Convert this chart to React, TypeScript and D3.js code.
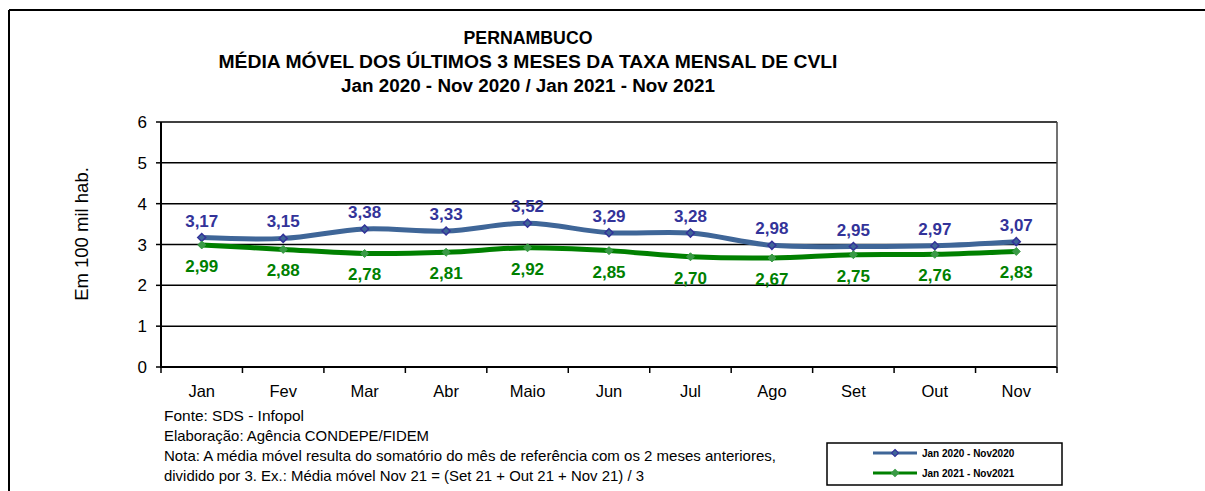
import React from "react";
import * as d3 from "d3";

const months = ["Jan", "Fev", "Mar", "Abr", "Maio", "Jun", "Jul", "Ago", "Set", "Out", "Nov"];
const series2020 = [3.17, 3.15, 3.38, 3.33, 3.52, 3.29, 3.28, 2.98, 2.95, 2.97, 3.07];
const series2021 = [2.99, 2.88, 2.78, 2.81, 2.92, 2.85, 2.70, 2.67, 2.75, 2.76, 2.83];
const yTicks = [0, 1, 2, 3, 4, 5, 6];
const legendLabels = ["Jan 2020 - Nov2020", "Jan 2021 - Nov2021"];
const titleLines = [
  "PERNAMBUCO",
  "MÉDIA MÓVEL DOS ÚLTIMOS 3 MESES DA TAXA MENSAL DE CVLI",
  "Jan 2020 - Nov 2020 / Jan 2021 - Nov 2021",
];
const footerLines = [
  "Fonte: SDS - Infopol",
  "Elaboração: Agência CONDEPE/FIDEM",
  "Nota: A média móvel resulta do somatório do mês de referência com os 2 meses anteriores,",
  "dividido por 3. Ex.: Média móvel Nov 21 = (Set 21 + Out 21 + Nov 21) / 3",
];

const W = 1205;
const H = 491;
const FONT = "'Liberation Sans', Arial, sans-serif";
const BLUE_LINE = "#3F6698";
const BLUE_MARK = "#333399";
const GREEN_LINE = "#008000";
const GREEN_MARK = "#3A9A46";
const titleWidths = [129, 619, 374];
const footerWidths = [140, 265, 612, 480];

export default function App() {
  const left = 161, right = 1057, top = 122, bottom = 367;
  const x = d3.scaleBand<string>().domain(months).range([left, right]);
  const y = d3.scaleLinear().domain([0, 6]).range([bottom, top]);
  const cx = (m: string) => (x(m) as number) + x.bandwidth() / 2;
  const line = d3
    .line<number>()
    .x((_, i) => cx(months[i]))
    .y((d) => y(d))
    .curve(d3.curveCatmullRom.alpha(0.5));
  const diamond = (px: number, py: number, r: number) =>
    `M${px},${py - r}L${px + r},${py}L${px},${py + r}L${px - r},${py}Z`;

  return (
    <svg width={W} height={H} style={{ position: "absolute", left: 0, top: 0, background: "#fff" }}>
      <rect x={0} y={0} width={W} height={H} fill="#fff" />
      {/* outer frame */}
      <line x1={9} y1={10} x2={W} y2={10} stroke="#000" strokeWidth={2} />
      <line x1={9} y1={10} x2={9} y2={H} stroke="#000" strokeWidth={2} />

      {/* titles */}
      {titleLines.map((t, i) => (
        <text key={i} x={528} y={44 + i * 24} textAnchor="middle" fontFamily={FONT} fontWeight="bold" fontSize={17.5}
          textLength={titleWidths[i]} lengthAdjust="spacingAndGlyphs" fill="#000">
          {t}
        </text>
      ))}

      {/* gridlines */}
      {yTicks.map((t) => (
        <line key={t} x1={left} x2={right} y1={y(t)} y2={y(t)} stroke="#000" strokeWidth={t === 0 ? 2 : 1.5} />
      ))}
      <line x1={right} x2={right} y1={top} y2={bottom} stroke="#444" strokeWidth={1.5} />
      <line x1={left} x2={left} y1={top} y2={bottom + 1} stroke="#000" strokeWidth={2} />
      {yTicks.map((t) => (
        <g key={"yt" + t}>
          <line x1={left - 5} x2={left} y1={y(t)} y2={y(t)} stroke="#000" strokeWidth={1.5} />
          <text x={147} y={y(t) + 6} textAnchor="end" fontFamily={FONT} fontSize={17} fill="#000">
            {t}
          </text>
        </g>
      ))}
      {months.map((m) => (
        <line key={"xt" + m} x1={x(m) as number} x2={x(m) as number} y1={bottom} y2={bottom + 6} stroke="#000" strokeWidth={1.5} />
      ))}
      <line x1={right} x2={right} y1={bottom} y2={bottom + 6} stroke="#000" strokeWidth={1.5} />
      {months.map((m) => (
        <text key={"xl" + m} x={cx(m)} y={397} textAnchor="middle" fontFamily={FONT} fontSize={16.5} fill="#000">
          {m}
        </text>
      ))}

      {/* y axis title */}
      <text transform={`translate(88,234) rotate(-90)`} textAnchor="middle" fontFamily={FONT} fontSize={18.5} fill="#000">
        Em 100 mil hab.
      </text>

      {/* lines */}
      <path d={line(series2020) || ""} fill="none" stroke={BLUE_LINE} strokeWidth={5} />
      <path d={line(series2021) || ""} fill="none" stroke={GREEN_LINE} strokeWidth={5} />
      {series2020.map((v, i) => (
        <path key={"bm" + i} d={diamond(cx(months[i]), y(v), 4)} fill={BLUE_LINE} stroke={BLUE_MARK} strokeWidth={1.5} />
      ))}
      {series2021.map((v, i) => (
        <path key={"gm" + i} d={diamond(cx(months[i]), y(v), 4)} fill={GREEN_MARK} stroke={GREEN_MARK} strokeWidth={1} />
      ))}
      {series2020.map((v, i) => (
        <text key={"bl" + i} x={cx(months[i])} y={y(v) - 11} textAnchor="middle" fontFamily={FONT} fontWeight="bold" fontSize={17} fill={BLUE_MARK}>
          {v.toFixed(2).replace(".", ",")}
        </text>
      ))}
      {series2021.map((v, i) => (
        <text key={"gl" + i} x={cx(months[i])} y={y(v) + 27} textAnchor="middle" fontFamily={FONT} fontWeight="bold" fontSize={17} fill={GREEN_LINE}>
          {v.toFixed(2).replace(".", ",")}
        </text>
      ))}

      {/* footer */}
      {footerLines.map((t, i) => (
        <text key={"f" + i} x={164} y={421 + i * 20} fontFamily={FONT} fontSize={14.5} textLength={footerWidths[i]}
          lengthAdjust="spacingAndGlyphs" fill="#000">
          {t}
        </text>
      ))}

      {/* legend */}
      <rect x={827} y={443} width={235} height={42} fill="#fff" stroke="#000" strokeWidth={1.5} />
      {legendLabels.map((l, i) => {
        const ly = 453 + i * 20;
        const col = i === 0 ? BLUE_LINE : GREEN_LINE;
        const mk = i === 0 ? BLUE_MARK : GREEN_MARK;
        return (
          <g key={"lg" + i}>
            <line x1={873} x2={917} y1={ly} y2={ly} stroke={col} strokeWidth={3} />
            <path d={diamond(895, ly, 3.5)} fill={i === 0 ? BLUE_LINE : GREEN_MARK} stroke={mk} strokeWidth={1.2} />
            <text x={922} y={ly + 4} fontFamily={FONT} fontWeight="bold" fontSize={10} fill="#000">
              {l}
            </text>
          </g>
        );
      })}
    </svg>
  );
}
